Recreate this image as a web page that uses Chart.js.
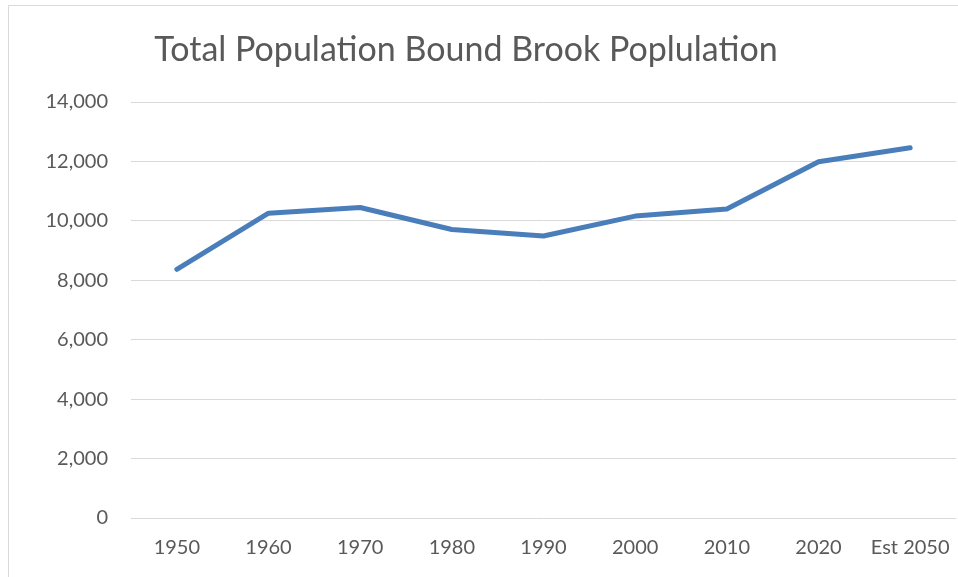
<!DOCTYPE html>
<html>
<head>
<meta charset="utf-8">
<script src="https://cdn.jsdelivr.net/npm/chart.js@4/dist/chart.umd.min.js"></script>
<style>
html,body{margin:0;padding:0;background:#fff;}
#wrap{position:relative;width:958px;height:577px;}
</style>
</head>
<body>
<div id="wrap"><canvas id="c" width="958" height="577"></canvas></div>
<script>
const titleText = 'Total Population Bound Brook Poplulation';
const categories = ['1950','1960','1970','1980','1990','2000','2010','2020','Est 2050'];
const population = [8370, 10260, 10450, 9710, 9490, 10160, 10400, 11990, 12460];
const yMin = 0, yMax = 14000, yStep = 2000;

const frame = {
  id: 'frame',
  beforeDraw(chart) {
    const ctx = chart.ctx;
    ctx.save();
    ctx.fillStyle = '#fff';
    ctx.fillRect(0, 0, chart.width, chart.height);
    ctx.strokeStyle = '#d9d9d9';
    ctx.lineWidth = 1;
    ctx.beginPath();
    ctx.moveTo(8.5, chart.height);
    ctx.lineTo(8.5, 5.5);
    ctx.lineTo(chart.width, 5.5);
    ctx.stroke();
    ctx.restore();
  },
  afterDraw(chart) {
    const ctx = chart.ctx;
    ctx.save();
    ctx.fillStyle = '#595959';
    ctx.font = 'normal 34px Lato';
    ctx.textAlign = 'center';
    ctx.textBaseline = 'alphabetic';
    ctx.fillText(titleText, 466, 61);
    ctx.restore();
  }
};

new Chart(document.getElementById('c'), {
  type: 'line',
  data: {
    labels: categories,
    datasets: [{
      data: population,
      borderColor: '#4a7ebb',
      borderWidth: 5,
      borderCapStyle: 'round',
      borderJoinStyle: 'round',
      pointRadius: 0,
      tension: 0,
      fill: false
    }]
  },
  options: {
    responsive: false,
    animation: false,
    layout: { padding: { left: 0, right: 2, top: 102, bottom: 0 } },
    plugins: {
      legend: { display: false },
      tooltip: { enabled: false },
      title: { display: false }
    },
    scales: {
      x: {
        offset: true,
        grid: { display: false, drawTicks: false },
        border: { display: false },
        ticks: {
          color: '#595959',
          font: { family: 'Lato', size: 20 },
          padding: 18,
          maxRotation: 0,
          autoSkip: false
        },
        afterFit(scale) {
          scale.height = 59;
          scale.paddingLeft = 0;
          scale.paddingRight = 0;
        }
      },
      y: {
        min: yMin,
        max: yMax,
        grid: { color: '#d9d9d9', lineWidth: 1, drawTicks: false },
        border: { display: false },
        ticks: {
          stepSize: yStep,
          color: '#595959',
          font: { family: 'Lato', size: 20 },
          padding: 23,
          callback: v => v.toLocaleString('en-US')
        },
        afterFit(scale) { scale.width = 131; scale.paddingTop = 0; scale.paddingBottom = 0; }
      }
    }
  },
  plugins: [frame]
});
</script>
</body>
</html>
